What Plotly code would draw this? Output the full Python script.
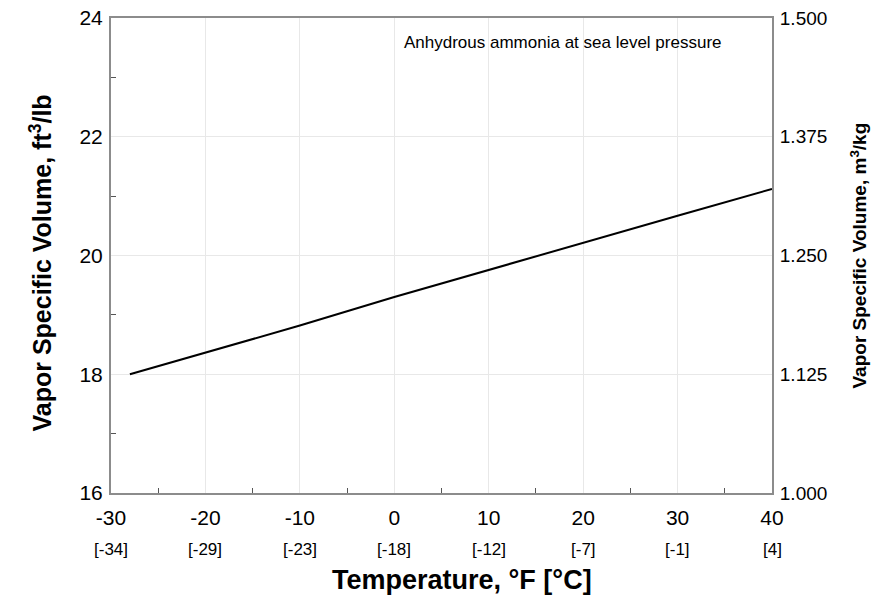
import plotly.graph_objects as go

# Data
temp_f = [-28, -20, -10, 0, 10, 20, 30, 40]
vol_ft3_lb = [18.00, 18.37, 18.82, 19.30, 19.76, 20.22, 20.67, 21.12]
x_ticks = [-30, -20, -10, 0, 10, 20, 30, 40]
celsius_labels = ["[-34]", "[-29]", "[-23]", "[-18]", "[-12]", "[-7]", "[-1]", "[4]"]
left_ticks = [16, 18, 20, 22, 24]
right_ticks = [1.000, 1.125, 1.250, 1.375, 1.500]
note_text = "Anhydrous ammonia at sea level pressure"

FONT = "Liberation Sans, Arial, sans-serif"
AXIS_COLOR = "#8c8c8c"
GRID_COLOR = "#e8e8e8"

fig = go.Figure()
fig.add_trace(go.Scatter(x=temp_f, y=vol_ft3_lb, mode="lines",
                         line=dict(color="black", width=2), showlegend=False,
                         hoverinfo="skip"))
# invisible trace to carry the metric axis
fig.add_trace(go.Scatter(x=temp_f, y=[v * 0.0625 for v in vol_ft3_lb], yaxis="y2",
                         mode="lines", line=dict(width=0), opacity=0,
                         showlegend=False, hoverinfo="skip"))

fig.update_layout(
    width=873, height=607,
    margin=dict(l=111, r=101, t=18, b=114, autoexpand=False),
    paper_bgcolor="white", plot_bgcolor="white",
    font=dict(family=FONT, color="black"),
    xaxis=dict(range=[-30, 40], tickvals=x_ticks, ticktext=[str(v) for v in x_ticks],
               tickfont=dict(size=21), showgrid=True, gridcolor=GRID_COLOR, gridwidth=1,
               showline=True, linecolor=AXIS_COLOR, linewidth=2, mirror=True,
               ticks="inside", ticklen=0, tickcolor=AXIS_COLOR,
               minor=dict(tickvals=[-25, -15, -5, 5, 15, 25, 35], ticks="inside",
                          ticklen=5, tickcolor="#555555", showgrid=False),
               ticklabelstandoff=5, zeroline=False, automargin=False),
    yaxis=dict(range=[16, 24], tickvals=left_ticks, tickfont=dict(size=21),
               showgrid=True, gridcolor=GRID_COLOR, gridwidth=1,
               showline=True, linecolor=AXIS_COLOR, linewidth=2,
               ticks="inside", ticklen=0, tickcolor=AXIS_COLOR,
               minor=dict(tickvals=[17, 19, 21, 23], ticks="inside", ticklen=5,
                          tickcolor="#555555", showgrid=False),
               ticklabelstandoff=2, zeroline=False, automargin=False),
    yaxis2=dict(range=[1.0, 1.5], tickvals=right_ticks, tickformat=".3f",
                tickfont=dict(size=19), overlaying="y", side="right",
                showgrid=False, showline=True, linecolor=AXIS_COLOR, linewidth=2,
                ticks="", ticklabelstandoff=2, zeroline=False, automargin=False),
)

annotations = []
for xv, lab in zip(x_ticks, celsius_labels):
    annotations.append(dict(x=xv, y=0, xref="x", yref="paper", text=lab,
                            showarrow=False, yshift=-56, font=dict(size=17),
                            xanchor="center", yanchor="middle"))
annotations.append(dict(x=0, y=0.5, xref="paper", yref="paper",
                        text="<b>Vapor Specific Volume, ft<sup>3</sup>/lb</b>",
                        textangle=-90, showarrow=False, xshift=-71, yshift=-8,
                        font=dict(size=25), xanchor="center", yanchor="middle"))
annotations.append(dict(x=1, y=0.5, xref="paper", yref="paper",
                        text="<b>Vapor Specific Volume, m<sup>3</sup>/kg</b>",
                        textangle=-90, showarrow=False, xshift=86,
                        font=dict(size=19), xanchor="center", yanchor="middle"))
annotations.append(dict(x=0.5, y=0, xref="paper", yref="paper",
                        text="<b>Temperature, °F [°C]</b>", showarrow=False,
                        xshift=20, yshift=-87, font=dict(size=27),
                        xanchor="center", yanchor="middle"))
annotations.append(dict(x=0.684, y=0.948, xref="paper", yref="paper", text=note_text,
                        showarrow=False, font=dict(size=17), xanchor="center",
                        yanchor="middle"))
fig.update_layout(annotations=annotations)

fig.write_html("out.html", config={"displayModeBar": False},
               post_script="document.body.style.margin='0';document.body.style.padding='0';")
